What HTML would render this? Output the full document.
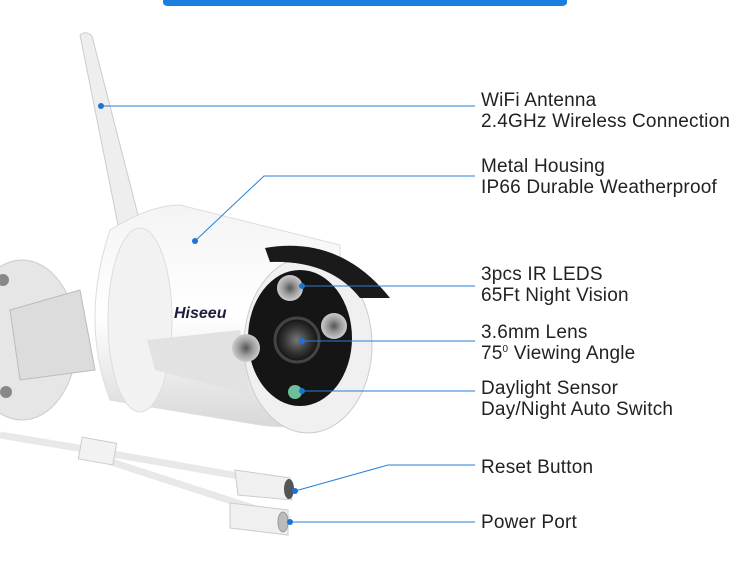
<!DOCTYPE html>
<html><head><meta charset="utf-8"><style>
html,body{margin:0;padding:0;background:#fff;width:741px;height:587px;overflow:hidden}
.t{position:absolute;left:481px;font-family:"Liberation Sans",sans-serif;font-size:19px;letter-spacing:0.2px;line-height:21px;color:#222;white-space:nowrap}
sup{font-size:10px;line-height:0;vertical-align:7px}
</style></head><body>
<svg width="741" height="587" style="position:absolute;left:0;top:0">
<defs>
<linearGradient id="body" x1="0" y1="0" x2="0" y2="1"><stop offset="0" stop-color="#f4f4f4"/><stop offset=".5" stop-color="#fff"/><stop offset="1" stop-color="#d8d8d8"/></linearGradient>
<radialGradient id="lens"><stop offset="0" stop-color="#777"/><stop offset=".6" stop-color="#333"/><stop offset="1" stop-color="#111"/></radialGradient>
<radialGradient id="ir"><stop offset="0" stop-color="#555"/><stop offset=".5" stop-color="#999"/><stop offset="1" stop-color="#ccc"/></radialGradient>
</defs>
<path d="M163 0 H567 V2 Q567 6 561 6 H169 Q163 6 163 2Z" fill="#1a7de0"/>
<ellipse cx="22" cy="340" rx="55" ry="80" fill="#e6e6e6" stroke="#ccc"/>
<circle cx="3" cy="280" r="6" fill="#888"/><circle cx="6" cy="392" r="6" fill="#888"/>
<path d="M10 310 L80 290 L95 370 L20 380Z" fill="#dcdcdc" stroke="#bbb"/>
<path d="M80 35 Q86 30 92 36 L138 215 L118 225Z" fill="#eee" stroke="#ccc"/>
<path d="M110 230 Q150 205 180 205 L340 245 L340 420 Q300 430 260 425 L110 400 Q80 320 110 230Z" fill="url(#body)" stroke="#ddd"/>
<ellipse cx="140" cy="320" rx="32" ry="92" fill="#f2f2f2" stroke="#ddd"/>
<path d="M147 340 L240 330 L250 395 L155 370Z" fill="#e2e2e2"/>
<text x="174" y="318" font-family="Liberation Sans,sans-serif" font-size="16" font-weight="bold" font-style="italic" fill="#1c1c3c">Hiseeu</text>
<ellipse cx="308" cy="345" rx="64" ry="88" fill="#f0f0f0" stroke="#ccc"/>
<ellipse cx="300" cy="338" rx="52" ry="68" fill="#151515"/>
<path d="M265 248 Q340 235 390 298 L360 298 Q330 260 270 262Z" fill="#1a1a1a"/>
<circle cx="290" cy="288" r="13" fill="url(#ir)"/>
<circle cx="334" cy="326" r="13" fill="url(#ir)"/>
<circle cx="246" cy="348" r="14" fill="url(#ir)"/>
<circle cx="297" cy="340" r="22" fill="url(#lens)" stroke="#444" stroke-width="3"/>
<circle cx="295" cy="392" r="7" fill="#6cbf9a"/>
<path d="M0 435 L90 450 L290 485" stroke="#e8e8e8" stroke-width="7" fill="none"/>
<path d="M90 455 L290 520" stroke="#e8e8e8" stroke-width="7" fill="none"/>
<rect x="80" y="440" width="35" height="22" fill="#f2f2f2" stroke="#ccc" transform="rotate(10 97 451)"/>
<path d="M235 470 L290 478 L292 500 L238 495Z" fill="#f0f0f0" stroke="#ccc"/>
<path d="M230 503 L288 510 L288 535 L230 528Z" fill="#f0f0f0" stroke="#ccc"/>
<ellipse cx="289" cy="489" rx="5" ry="10" fill="#555"/>
<ellipse cx="283" cy="522" rx="5" ry="10" fill="#bbb" stroke="#999"/>
<g stroke="#2a7fd4" stroke-width="1" fill="none">
<path d="M101 106 H475"/>
<path d="M195 241 L264 176 H475"/>
<path d="M302 286 H475"/>
<path d="M302 341 H475"/>
<path d="M302 391 H475"/>
<path d="M295 491 L388 465 H475"/>
<path d="M290 522 H475"/>
</g>
<g fill="#1a74d4">
<circle cx="101" cy="106" r="3"/><circle cx="195" cy="241" r="3"/><circle cx="302" cy="286" r="3"/>
<circle cx="302" cy="341" r="3"/><circle cx="302" cy="391" r="3"/><circle cx="295" cy="491" r="3"/><circle cx="290" cy="522" r="3"/>
</g>
</svg>
<div class="t" style="top:90px">WiFi Antenna<br>2.4GHz Wireless Connection</div>
<div class="t" style="top:156px">Metal Housing<br>IP66 Durable Weatherproof</div>
<div class="t" style="top:264px">3pcs IR LEDS<br>65Ft Night Vision</div>
<div class="t" style="top:322px">3.6mm Lens<br>75<sup>0</sup> Viewing Angle</div>
<div class="t" style="top:378px">Daylight Sensor<br>Day/Night Auto Switch</div>
<div class="t" style="top:457px">Reset Button</div>
<div class="t" style="top:512px">Power Port</div>
</body></html>
